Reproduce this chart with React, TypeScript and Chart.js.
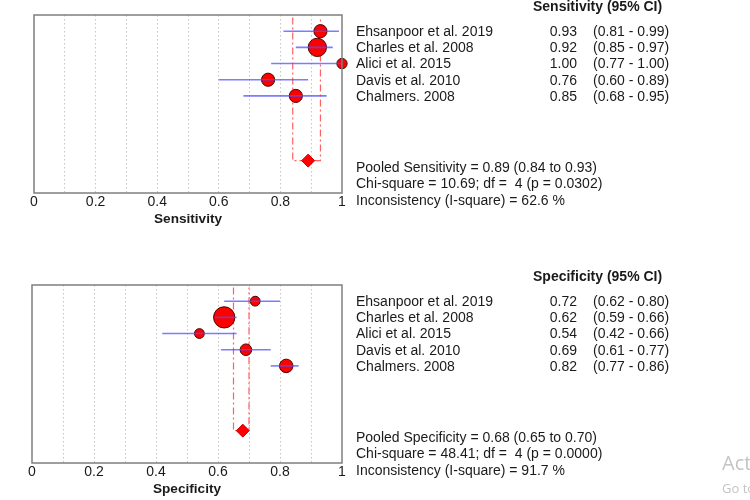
import React, { useEffect, useRef } from "react";
import { Chart, registerables } from "chart.js";

Chart.register(...registerables);

// ---------- data ----------
const studies = [
  "Ehsanpoor et al. 2019",
  "Charles et al. 2008",
  "Alici et al. 2015",
  "Davis et al. 2010",
  "Chalmers. 2008",
];

const sensValues = [0.93, 0.92, 1.0, 0.76, 0.85];
const sensLower = [0.81, 0.85, 0.77, 0.6, 0.68];
const sensUpper = [0.99, 0.97, 1.0, 0.89, 0.95];
const sensWeights = [18, 35, 11, 18, 18];
const sensPooled = [0.89, 0.84, 0.93];
const sensStats = [
  "Pooled Sensitivity = 0.89 (0.84 to 0.93)",
  "Chi-square = 10.69; df =  4 (p = 0.0302)",
  "Inconsistency (I-square) = 62.6 %",
];

const specValues = [0.72, 0.62, 0.54, 0.69, 0.82];
const specLower = [0.62, 0.59, 0.42, 0.61, 0.77];
const specUpper = [0.8, 0.66, 0.66, 0.77, 0.86];
const specWeights = [10, 47, 10, 14, 19];
const specPooled = [0.68, 0.65, 0.7];
const specStats = [
  "Pooled Specificity = 0.68 (0.65 to 0.70)",
  "Chi-square = 48.41; df =  4 (p = 0.0000)",
  "Inconsistency (I-square) = 91.7 %",
];

const xTickLabels = ["0", "0.2", "0.4", "0.6", "0.8", "1"];

const FONT = "'Liberation Sans', Arial, sans-serif";

type PanelProps = {
  axisTitle: string;
  header: string;
  values: number[];
  lower: number[];
  upper: number[];
  weights: number[];
  pooled: number[];
  stats: string[];
  top: number;
  boxLeft: number;
  watermark?: boolean;
};

function Panel(p: PanelProps) {
  const ref = useRef<HTMLCanvasElement | null>(null);

  useEffect(() => {
    if (!ref.current) return;
    const n = p.values.length;
    const pooledRow = 9;

    const ciSets = p.values.map((_, i) => ({
      data: [
        { x: p.lower[i], y: i + 1 },
        { x: p.upper[i], y: i + 1 },
      ],
      showLine: true,
      borderColor: "rgba(80,80,255,0.75)",
      borderWidth: 1.6,
      pointRadius: 0,
      order: 0,
      clip: false as any,
    }));

    const pooledLine = {
      data: [
        { x: p.pooled[1], y: 0.15 },
        { x: p.pooled[1], y: pooledRow },
        { x: p.pooled[2], y: pooledRow },
        { x: p.pooled[2], y: 0.15 },
      ],
      showLine: true,
      borderColor: "rgba(255,80,80,0.9)",
      borderWidth: 1.2,
      borderDash: [7, 3, 2, 3],
      pointRadius: 0,
      order: 3,
    };

    const points = {
      data: p.values.map((v, i) => ({ x: v, y: i + 1 })),
      pointRadius: p.weights.map((w) => Math.sqrt(w) * 1.55),
      pointBackgroundColor: "#ff0000",
      pointBorderColor: "#4a0000",
      pointBorderWidth: 1,
      order: 2,
      clip: false as any,
    };

    const diamond = {
      data: [{ x: p.pooled[0], y: pooledRow }],
      pointStyle: "rectRot",
      pointRadius: 6.5,
      pointBackgroundColor: "#ff0000",
      pointBorderColor: "#cc0000",
      pointBorderWidth: 1,
      order: 1,
    };

    const textPlugin = {
      id: "forestText",
      afterDraw(chart: any) {
        const ctx = chart.ctx as CanvasRenderingContext2D;
        const area = chart.chartArea;
        const yScale = chart.scales.y;
        ctx.save();
        // frame
        ctx.strokeStyle = "#7f7f7f";
        ctx.lineWidth = 1.5;
        ctx.strokeRect(area.left, area.top, area.right - area.left, area.bottom - area.top);

        ctx.fillStyle = "#1a1a1a";
        ctx.textBaseline = "middle";
        ctx.font = `bold 14px ${FONT}`;
        ctx.textAlign = "left";
        ctx.fillText(p.header, 533, 7);

        ctx.font = `14px ${FONT}`;
        for (let i = 0; i < n; i++) {
          const y = yScale.getPixelForValue(i + 1) + 1;
          ctx.textAlign = "left";
          ctx.fillText(studies[i], 356, y);
          ctx.textAlign = "right";
          ctx.fillText(p.values[i].toFixed(2), 577, y);
          ctx.textAlign = "left";
          ctx.fillText(`(${p.lower[i].toFixed(2)} - ${p.upper[i].toFixed(2)})`, 593, y);
        }
        const statY = [168, 184, 201];
        p.stats.forEach((s, i) => {
          ctx.textAlign = "left";
          ctx.fillText(s, 356, statY[i]);
        });

        if (p.watermark) {
          ctx.fillStyle = "rgba(190,190,190,0.9)";
          ctx.font = `20px 'Open Sans', ${FONT}`;
          ctx.fillText("Activate Windows", 722, 194);
          ctx.font = `13px 'Open Sans', ${FONT}`;
          ctx.fillText("Go to Settings to activate Windows.", 722, 219);
        }
        ctx.restore();
      },
    };

    const chart = new Chart(ref.current, {
      type: "scatter",
      data: { datasets: [...ciSets, diamond, points, pooledLine] as any },
      options: {
        responsive: false,
        animation: false,
        events: [],
        layout: {
          padding: { left: p.boxLeft, right: 750 - 342, top: 15, bottom: 20 },
        },
        plugins: { legend: { display: false }, tooltip: { enabled: false } },
        scales: {
          x: {
            type: "linear",
            min: 0,
            max: 1,
            afterFit: (s: any) => {
              s.height = 37;
            },
            border: { display: false, dash: [1.5, 2.5] },
            grid: {
              drawTicks: false,
              lineWidth: 1,
              color: (c: any) => {
                const v = c.tick ? c.tick.value : 0;
                if (v < 0.01 || v > 0.99) return "rgba(0,0,0,0)";
                return "#c4c4c4";
              },
            },
            ticks: {
              stepSize: 0.1,
              autoSkip: false,
              maxRotation: 0,
              padding: 1,
              color: "#1a1a1a",
              font: { family: FONT, size: 14 },
              callback: (value: any) => {
                const k = Math.round(Number(value) * 10);
                return k % 2 === 0 ? xTickLabels[k / 2] : "";
              },
            },
            title: {
              display: true,
              text: p.axisTitle,
              color: "#1a1a1a",
              font: { family: FONT, size: 13.6, weight: "bold" },
              padding: { top: 0, bottom: 3 },
            },
          },
          y: {
            type: "linear",
            min: 0,
            max: 11,
            reverse: true,
            display: false,
          },
        },
      } as any,
      plugins: [textPlugin],
    });
    return () => chart.destroy();
  }, []);

  return (
    <canvas
      ref={ref}
      width={750}
      height={250}
      style={{ position: "absolute", left: 0, top: p.top, width: 750, height: 250 }}
    />
  );
}

export default function App() {
  return (
    <div style={{ position: "absolute", left: 0, top: 0, width: 750, height: 500, background: "#fff", overflow: "hidden" }}>
      <Panel
        axisTitle="Sensitivity"
        header="Sensitivity (95% CI)"
        values={sensValues}
        lower={sensLower}
        upper={sensUpper}
        weights={sensWeights}
        pooled={sensPooled}
        stats={sensStats}
        top={0}
        boxLeft={34}
      />
      <Panel
        axisTitle="Specificity"
        header="Specificity (95% CI)"
        values={specValues}
        lower={specLower}
        upper={specUpper}
        weights={specWeights}
        pooled={specPooled}
        stats={specStats}
        top={270}
        boxLeft={32}
        watermark
      />
    </div>
  );
}
